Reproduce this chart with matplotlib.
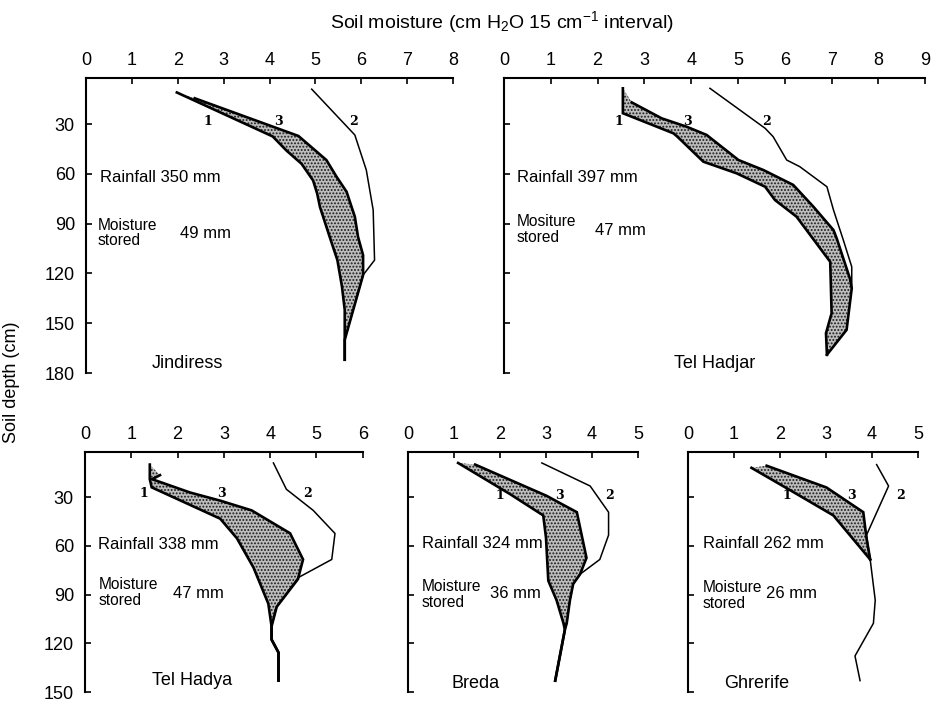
import matplotlib
matplotlib.use("Agg")
import matplotlib.pyplot as plt
import numpy as np

# --- data: soil moisture (cm H2O per 15 cm) against depth (cm) ---
# curve 1 / curve 3 bound the stippled area, curve 2 is the thin line

# Jindiress
jin_c1_v = [1.98, 4.07, 4.37, 4.70, 4.95, 5.04, 5.10, 5.30, 5.48, 5.58, 5.64, 5.64]
jin_c1_d = [11, 37.5, 46, 54, 64, 72, 80, 97, 112, 128, 142, 172]
jin_c3_v = [2.37, 4.63, 5.24, 5.46, 5.68, 5.86, 5.93, 6.04, 6.04, 5.64, 5.64]
jin_c3_d = [14.5, 37.2, 51.7, 61.7, 70.8, 85.8, 98, 109, 121, 160, 172]
jin_c2_v = [4.92, 5.86, 6.11, 6.26, 6.29, 6.04, 5.64]
jin_c2_d = [9, 36.6, 57.7, 81.8, 112, 121, 160]

# Tel Hadjar
had_c1_v = [2.54, 2.54, 3.62, 3.70, 4.26, 4.97, 5.58, 5.79, 6.25, 6.97, 7.00, 6.88, 6.90]
had_c1_d = [8.5, 23.5, 35.6, 37.5, 52.7, 59.7, 67.8, 75.8, 85.8, 113, 144, 156, 169]
had_c3_v = [2.73, 3.37, 3.90, 4.33, 5.01, 5.54, 6.18, 6.61, 7.04, 7.11, 7.39, 7.43, 7.32, 6.90]
had_c3_d = [17, 26.6, 31.6, 36.6, 51.7, 57.7, 66.7, 79.8, 93.9, 99, 123, 129, 154, 169]
had_c2_v = [4.40, 5.58, 5.75, 6.04, 6.32, 6.90, 7.04, 7.25, 7.43, 7.43]
had_c2_d = [8.5, 32.6, 37.6, 51.7, 55.7, 67.8, 81.8, 99.9, 116, 129]

# Tel Hadya
hya_c1_v = [1.40, 1.40, 1.44, 2.92, 3.28, 3.64, 3.96, 4.03, 4.03, 4.18, 4.18]
hya_c1_d = [10, 19, 24, 43.3, 55.3, 73.4, 95.6, 109.6, 117.7, 125.7, 143]
hya_c3_v = [1.62, 1.45, 2.27, 2.92, 3.60, 4.43, 4.71, 4.60, 4.14, 4.03, 4.03, 4.18, 4.18]
hya_c3_d = [16.5, 19, 27.2, 32.2, 38.2, 52.3, 68.4, 80.5, 97.6, 109.6, 117.7, 125.7, 143]
hya_c2_v = [4.07, 4.35, 4.93, 5.40, 5.33, 4.61, 4.14, 4.03, 4.03, 4.18, 4.18]
hya_c2_d = [9, 25.2, 38.2, 52.4, 68.4, 79.5, 97.6, 109.6, 117.7, 125.7, 143]

# Breda
bre_c1_v = [1.09, 2.22, 2.94, 3.00, 3.05, 3.23, 3.38, 3.41, 3.20]
bre_c1_d = [9, 28.2, 41.3, 55, 81.5, 93.5, 107.7, 111.7, 143]
bre_c3_v = [1.46, 3.01, 3.67, 3.88, 3.74, 3.59, 3.52, 3.45, 3.41, 3.20]
bre_c3_d = [10, 29.2, 39.3, 67.4, 77.5, 83.5, 93.5, 107.7, 111.7, 143]
bre_c2_v = [2.91, 3.96, 4.36, 4.36, 4.17, 3.74, 3.59, 3.52, 3.45, 3.41, 3.20]
bre_c2_d = [9, 23.2, 39.3, 53.4, 68.4, 77.5, 83.5, 93.5, 107.7, 111.7, 143]

# Ghrerife
ghr_c1_v = [1.38, 2.43, 3.16, 3.96]
ghr_c1_d = [12, 29.2, 41.3, 68.4]
ghr_c3_v = [1.71, 3.01, 3.81, 3.88, 3.96]
ghr_c3_d = [10.7, 24.1, 39.3, 55.3, 68.4]
ghr_c2_v = [4.10, 4.36, 3.88, 3.96, 4.07, 4.03, 3.63, 3.74]
ghr_c2_d = [10, 23.2, 53.4, 68.4, 93.5, 107.7, 127.8, 143]

sites = ["Jindiress", "Tel Hadjar", "Tel Hadya", "Breda", "Ghrerife"]
rainfall = [350, 397, 338, 324, 262]
stored = [49, 47, 47, 36, 26]
moist_word = ["Moisture", "Mositure", "Moisture", "Moisture", "Moisture"]
x_max = [8, 9, 6, 5, 5]
depth_max = [180, 180, 150, 150, 150]

plt.rcParams["font.family"] = ["Liberation Sans", "DejaVu Sans"]
plt.rcParams["mathtext.default"] = "regular"
plt.rcParams["hatch.linewidth"] = 0.9

fig = plt.figure(figsize=(9.34, 7.01), dpi=100)

# axes boxes (figure fraction)
rects = [
    [0.0921, 0.4679, 0.3929, 0.4215],
    [0.5396, 0.4679, 0.4510, 0.4215],
    [0.0910, 0.0128, 0.2974, 0.3430],
    [0.4368, 0.0128, 0.2463, 0.3430],
    [0.7366, 0.0128, 0.2463, 0.3430],
]

curves = [
    (jin_c1_v, jin_c1_d, jin_c2_v, jin_c2_d, jin_c3_v, jin_c3_d),
    (had_c1_v, had_c1_d, had_c2_v, had_c2_d, had_c3_v, had_c3_d),
    (hya_c1_v, hya_c1_d, hya_c2_v, hya_c2_d, hya_c3_v, hya_c3_d),
    (bre_c1_v, bre_c1_d, bre_c2_v, bre_c2_d, bre_c3_v, bre_c3_d),
    (ghr_c1_v, ghr_c1_d, ghr_c2_v, ghr_c2_d, ghr_c3_v, ghr_c3_d),
]

# text placement per panel (data coords): rainfall, moisture block, mm, curve labels, site name
rain_pos = [(0.30, 62.5), (0.27, 62.5), (0.29, 59.4), (0.30, 58.4), (0.32, 58.4)]
moist_pos = [(0.26, 95.7), (0.27, 93.6), (0.29, 88.8), (0.30, 90.0), (0.32, 90.6)]
mm_pos = [(2.05, 95.7), (1.94, 93.9), (1.91, 89.1), (1.78, 89.1), (1.70, 89.1)]
lab_x = [(2.66, 5.84, 4.20), (2.46, 5.60, 3.93), (1.28, 4.81, 2.95),
         (2.00, 4.39, 3.30), (2.15, 4.61, 3.56)]
lab_d = [28.5, 28.2, 28.0, 29.2, 29.2]
name_pos = [(2.22, 174), (4.50, 174), (2.31, 143), (1.46, 144.7), (1.50, 144.7)]

for i in range(5):
    ax = fig.add_axes(rects[i])
    c1v, c1d, c2v, c2d, c3v, c3d = curves[i]

    # stippled band between curve 1 and curve 3
    ax.fill(np.r_[c1v, c3v[::-1]], np.r_[c1d, c3d[::-1]],
            facecolor="#bdbdbd", edgecolor="#1a1a1a", hatch=".....", linewidth=0)
    ax.plot(c1v, c1d, color="black", lw=1.9, solid_joinstyle="miter")
    ax.plot(c3v, c3d, color="black", lw=1.9, solid_joinstyle="miter")
    ax.plot(c2v, c2d, color="black", lw=1.1)

    for k, t in enumerate(["1", "2", "3"]):
        ax.text(lab_x[i][k], lab_d[i], t, ha="center", va="center", fontsize=9,
                fontweight="bold", family="DejaVu Serif")

    ax.text(*rain_pos[i], f"Rainfall {rainfall[i]} mm", fontsize=12, va="center")
    ax.text(*moist_pos[i], f"{moist_word[i]}\nstored", fontsize=11.2, va="center",
            linespacing=1.05)
    ax.text(*mm_pos[i], f"{stored[i]} mm", fontsize=12, va="center")
    ax.text(*name_pos[i], sites[i], fontsize=13, ha="center", va="center")

    ax.set_xlim(0, x_max[i])
    ax.set_ylim(depth_max[i], 2)
    ax.xaxis.tick_top()
    ax.set_xticks(range(x_max[i] + 1))
    ax.set_yticks(range(30, depth_max[i] + 1, 30))
    if i not in (0, 2):
        ax.set_yticklabels([])
    ax.tick_params(direction="in", length=4, width=1.2, labelsize=13,
                   pad=6, top=True, bottom=False, right=False)
    ax.tick_params(axis="y", pad=8)
    for s in ("right", "bottom"):
        ax.spines[s].set_visible(False)
    for s in ("top", "left"):
        ax.spines[s].set_linewidth(1.5)
    ax.patch.set_alpha(0)

fig.text(0.5375, 0.969, r"Soil moisture (cm H$_2$O 15 cm$^{-1}$ interval)",
         ha="center", va="center", fontsize=14)
fig.text(0.012, 0.454, "Soil depth (cm)", rotation=90, ha="center", va="center",
         fontsize=13)

fig.savefig("out.png", dpi=100)
